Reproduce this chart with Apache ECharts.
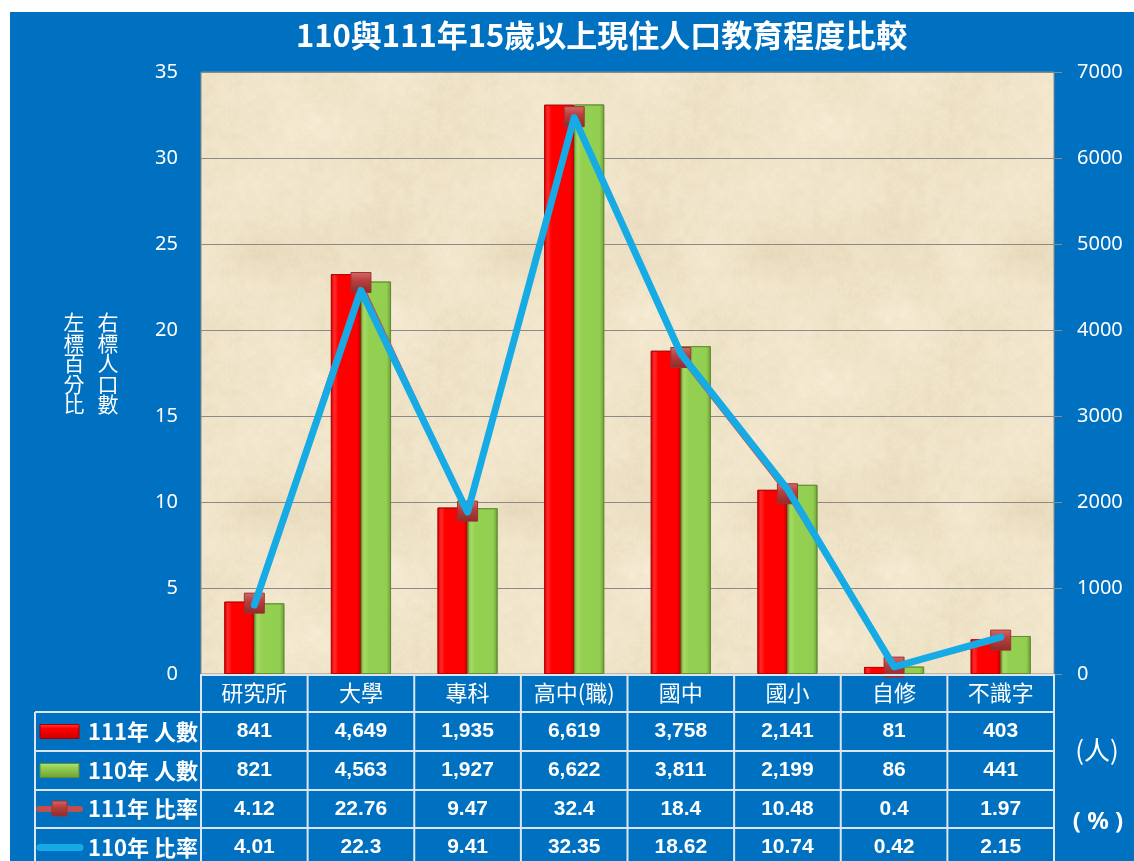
<!DOCTYPE html>
<html>
<head>
<meta charset="utf-8">
<script src="https://cdn.jsdelivr.net/npm/echarts@6/dist/echarts.min.js"></script>
<style>
html,body{margin:0;padding:0;background:#fff;}
#chart{width:1134px;height:861px;}
</style>
</head>
<body>
<div id="chart"></div>
<script>
// ---- data ----
const categories = ['研究所','大學','專科','高中(職)','國中','國小','自修','不識字'];
const people111 = [841,4649,1935,6619,3758,2141,81,403];
const people110 = [821,4563,1927,6622,3811,2199,86,441];
const ratio111 = [4.12,22.76,9.47,32.4,18.4,10.48,0.4,1.97];
const ratio110 = [4.01,22.3,9.41,32.35,18.62,10.74,0.42,2.15];
const rowLabels = ['111年 人數','110年 人數','111年 比率','110年 比率'];
const titleText = '110與111年15歲以上現住人口教育程度比較';

// ---- parchment texture (deterministic) ----
function makeTexture(){
  const S = 256, c = document.createElement('canvas');
  c.width = S; c.height = S;
  const ctx = c.getContext('2d');
  const img = ctx.createImageData(S,S);
  function h(x,y){ let n = x*374761393 + y*668265263; n = (n^(n>>13))*1274126177; n = n^(n>>16); return ((n>>>0)%1000)/1000; }
  function vn(x,y,f){
    const gx=x/f, gy=y/f, x0=Math.floor(gx), y0=Math.floor(gy), tx=gx-x0, ty=gy-y0;
    const m=S/f;
    const a=h(x0%m,y0%m), b=h((x0+1)%m,y0%m), cc=h(x0%m,(y0+1)%m), d=h((x0+1)%m,(y0+1)%m);
    const sx=tx*tx*(3-2*tx), sy=ty*ty*(3-2*ty);
    return a+(b-a)*sx+(cc-a)*sy+(a-b-cc+d)*sx*sy;
  }
  for(let y=0;y<S;y++)for(let x=0;x<S;x++){
    const v = 0.35*vn(x,y,64)+0.25*vn(x,y,32)+0.2*vn(x,y,8)+0.2*vn(x,y,2);
    const t = v-0.5;
    const i=(y*S+x)*4;
    img.data[i]=Math.round(239+t*20);
    img.data[i+1]=Math.round(227+t*24);
    img.data[i+2]=Math.round(200+t*32);
    img.data[i+3]=255;
  }
  ctx.putImageData(img,0,0);
  return c;
}

const chart = echarts.init(document.getElementById('chart'), null, {renderer:'canvas'});

const GRID = {left:201, right:80, top:72, bottom:187};
const barRed = new echarts.graphic.LinearGradient(0,0,1,0,[
  {offset:0,color:'#D80000'},{offset:0.12,color:'#FF2A2A'},{offset:0.25,color:'#FF0000'},
  {offset:0.85,color:'#FF0000'},{offset:1,color:'#C40000'}]);
const barGreen = new echarts.graphic.LinearGradient(0,0,1,0,[
  {offset:0,color:'#7FB840'},{offset:0.12,color:'#A6DA66'},{offset:0.25,color:'#94D152'},
  {offset:0.85,color:'#92CF50'},{offset:1,color:'#6E9E38'}]);
const markerFill = new echarts.graphic.LinearGradient(0,0,0,1,[
  {offset:0,color:'#D46A6A'},{offset:0.4,color:'#B8403E'},{offset:1,color:'#8E2B2A'}]);

const option = {
  backgroundColor: 'transparent',
  animation: false,
  textStyle: {fontFamily: '"Noto Sans CJK TC", "Noto Sans", sans-serif'},
  title: {
    text: titleText, left: 291, top: 15,
    textStyle: {color:'#fff', fontSize: 31, fontWeight:'bold', fontFamily:'"Noto Sans CJK TC", sans-serif'}
  },
  grid: {left:GRID.left, right:GRID.right, top:GRID.top, bottom:GRID.bottom, show:true,
    borderColor:'#8a8a8a', borderWidth:1, backgroundColor:'transparent'},
  xAxis: {
    type:'category', data: categories,
    axisLine:{show:false}, axisTick:{show:false},
    axisLabel:{color:'#fff', fontSize:22, margin:8, fontFamily:'"Noto Sans CJK TC", sans-serif', interval:0}
  },
  yAxis: [
    {type:'value', min:0, max:35, interval:5, position:'left',
      axisLine:{show:false}, axisTick:{show:false},
      axisLabel:{color:'#fff', fontSize:20, margin:23, fontFamily:'"Noto Sans", sans-serif'},
      splitLine:{show:true, lineStyle:{color:'#8a8a8a', width:1}}},
    {type:'value', min:0, max:7000, interval:1000, position:'right',
      axisLine:{show:false}, axisTick:{show:true, length:8, lineStyle:{color:'#8a8a8a'}},
      axisLabel:{color:'#fff', fontSize:20, margin:23, fontFamily:'"Noto Sans", sans-serif', formatter: v => String(v)},
      splitLine:{show:false}}
  ],
  series: [
    {name:'111年 人數', type:'bar', yAxisIndex:1, data: people111, barWidth:30, barGap:'0%',
      itemStyle:{color:barRed, borderColor:'#B00000', borderWidth:0.8}, z:2},
    {name:'110年 人數', type:'bar', yAxisIndex:1, data: people110, barWidth:30, barGap:'0%',
      itemStyle:{color:barGreen, borderColor:'#5E8C30', borderWidth:0.8}, z:2},
    {name:'111年 比率', type:'line', yAxisIndex:0, data: ratio111,
      symbol:'rect', symbolSize:20, showAllSymbol:true,
      lineStyle:{color:'#C0504D', width:3},
      itemStyle:{color:markerFill, borderColor:'#9B3331', borderWidth:1}, z:3},
    {name:'110年 比率', type:'line', yAxisIndex:0, data: ratio110,
      symbol:'none', lineStyle:{color:'#17ABE6', width:7, cap:'round', join:'round'}, z:4}
  ]
};
chart.setOption(option);

// ---- table & decorations ----
const tex = makeTexture();
const colX = categories.map((c,i)=>chart.convertToPixel({xAxisIndex:0}, i));
const plotL = GRID.left, plotR = 1134-GRID.right, plotB = 861-GRID.bottom, plotT = GRID.top;
const catW = (plotR-plotL)/categories.length;
const rowY = [plotB, 712, 751, 790, 828, 867];
const tableL = 35;
const lineColor = '#DCE6F2';
const els = [];
els.push({type:'rect', shape:{x:10,y:12,width:1124,height:849}, style:{fill:'#0070C0'}, z:-20, silent:true});
els.push({type:'rect', shape:{x:plotL,y:plotT,width:plotR-plotL,height:plotB-plotT},
  style:{fill:{image:tex, repeat:'repeat'}}, z:-10, silent:true});
els.push({type:'line', shape:{x1:plotL,y1:plotB+1,x2:plotR,y2:plotB+1}, style:{stroke:lineColor,lineWidth:2}, z:5});
for(let r=1;r<5;r++){
  els.push({type:'line', shape:{x1:tableL,y1:rowY[r],x2:plotR,y2:rowY[r]}, style:{stroke:lineColor,lineWidth:2}, z:5});
}
for(let i=0;i<=categories.length;i++){
  const x = plotL + i*catW;
  els.push({type:'line', shape:{x1:x,y1:plotB,x2:x,y2:861}, style:{stroke:lineColor,lineWidth:2}, z:5});
}
els.push({type:'line', shape:{x1:tableL,y1:rowY[1],x2:tableL,y2:861}, style:{stroke:lineColor,lineWidth:2}, z:5});
const rows = [people111.map(v=>v.toLocaleString('en-US')), people110.map(v=>v.toLocaleString('en-US')),
  ratio111.map(String), ratio110.map(String)];
rows.forEach((vals,r)=>{
  const cy = (rowY[r+1]+rowY[r+2])/2;
  vals.forEach((v,i)=>{
    els.push({type:'text', x:colX[i], y:cy, style:{text:v, fill:'#fff', font:'bold 21px "Liberation Sans", Arial, sans-serif', align:'center', verticalAlign:'middle'}, z:6});
  });
  els.push({type:'text', x:198, y:cy, style:{text:rowLabels[r], fill:'#fff', font:'bold 22px "Noto Sans CJK TC", sans-serif', align:'right', verticalAlign:'middle'}, z:6});
});
const ky = r => (rowY[r+1]+rowY[r+2])/2;
els.push({type:'rect', shape:{x:40,y:ky(0)-7,width:39,height:14}, style:{fill:new echarts.graphic.LinearGradient(0,0,0,1,[{offset:0,color:'#FF4040'},{offset:0.3,color:'#FF0000'},{offset:1,color:'#C80000'}]), stroke:'#A00000', lineWidth:1}, z:6});
els.push({type:'rect', shape:{x:40,y:ky(1)-7,width:39,height:14}, style:{fill:new echarts.graphic.LinearGradient(0,0,0,1,[{offset:0,color:'#B8E27C'},{offset:0.3,color:'#94D152'},{offset:1,color:'#6E9E38'}]), stroke:'#5E8C30', lineWidth:1}, z:6});
els.push({type:'line', shape:{x1:39,y1:ky(2),x2:80,y2:ky(2)}, style:{stroke:'#C0504D', lineWidth:6, lineCap:'round'}, z:6});
els.push({type:'rect', shape:{x:52,y:ky(2)-8,width:15,height:15}, style:{fill:markerFill, stroke:'#9B3331', lineWidth:1}, z:7});
els.push({type:'line', shape:{x1:40,y1:ky(3),x2:80,y2:ky(3)}, style:{stroke:'#17ABE6', lineWidth:7, lineCap:'round'}, z:6});
els.push({type:'text', x:1097, y:750, style:{text:'(人)', fill:'#fff', font:'26px "Noto Sans CJK TC", sans-serif', align:'center', verticalAlign:'middle'}, z:6});
els.push({type:'text', x:1098, y:822, style:{text:'( % )', fill:'#fff', font:'bold 24px "Noto Sans", sans-serif', align:'center', verticalAlign:'middle'}, z:6});
els.push({type:'text', x:74, y:312, style:{text:'左\n標\n百\n分\n比', fill:'#fff', font:'21px "Noto Sans CJK TC", sans-serif', lineHeight:20.5, align:'center', verticalAlign:'top'}, z:6});
els.push({type:'text', x:108, y:312, style:{text:'右\n標\n人\n口\n數', fill:'#fff', font:'21px "Noto Sans CJK TC", sans-serif', lineHeight:20.5, align:'center', verticalAlign:'top'}, z:6});

chart.setOption({graphic:{elements:els}});
</script>
</body>
</html>
